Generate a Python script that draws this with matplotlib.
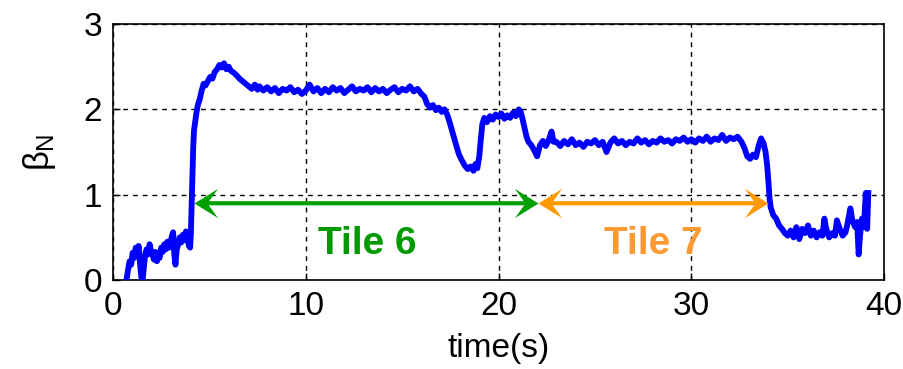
import matplotlib
matplotlib.use('Agg')
import matplotlib.pyplot as plt
from matplotlib.path import Path
from matplotlib.patches import FancyArrowPatch

plt.rcParams['font.family'] = ['Liberation Sans', 'DejaVu Sans']
plt.rcParams['mathtext.fontset'] = 'custom'
plt.rcParams['mathtext.rm'] = 'Liberation Sans'
plt.rcParams['mathtext.it'] = 'Liberation Sans'

# beta_N trace (time in s)
time_s = [
    0.70, 0.78, 0.86, 0.94, 1.02, 1.10, 1.18, 1.26, 1.33, 1.40, 1.47, 1.54, 1.60,
    1.67, 1.74, 1.82, 1.90, 1.97, 2.05, 2.12, 2.20, 2.28, 2.35, 2.42, 2.50, 2.58,
    2.66, 2.74, 2.82, 2.90, 2.98, 3.06, 3.12, 3.18, 3.24, 3.30, 3.38, 3.46, 3.54,
    3.62, 3.70, 3.78, 3.86, 3.94, 4.00, 4.04,
    4.08, 4.12, 4.16, 4.20, 4.26, 4.32, 4.40, 4.50, 4.60, 4.70, 4.80, 4.92, 5.04,
    5.16, 5.28, 5.40, 5.52, 5.64, 5.76, 5.88, 6.00, 6.12, 6.26, 6.40, 6.56, 6.72,
    6.88, 7.04, 7.20, 7.36, 7.50,
    7.6, 7.8, 8.0, 8.2, 8.4, 8.6, 8.8, 9.0, 9.2, 9.4, 9.6, 9.8, 10.0, 10.2, 10.4,
    10.6, 10.8, 11.0, 11.2, 11.4, 11.6, 11.8, 12.0, 12.2, 12.4, 12.6, 12.8, 13.0,
    13.2, 13.4, 13.6, 13.8, 14.0, 14.2, 14.4, 14.6, 14.8, 15.0, 15.2, 15.4, 15.6,
    15.8, 16.0,
    16.15, 16.3, 16.45, 16.6, 16.75, 16.9, 17.05, 17.2, 17.35, 17.5, 17.65, 17.8,
    17.95, 18.1, 18.25, 18.4, 18.55, 18.7, 18.8, 18.9, 19.0, 19.08, 19.16, 19.26,
    19.4, 19.55, 19.7, 19.85, 20.0, 20.15, 20.3, 20.45, 20.6, 20.75, 20.9, 21.05,
    21.15, 21.25, 21.35, 21.45, 21.55, 21.7, 21.85, 22.0, 22.15, 22.3, 22.45, 22.6,
    22.75, 22.85,
    23.0, 23.2, 23.4, 23.6, 23.8, 24.0, 24.2, 24.4, 24.6, 24.8, 25.0, 25.2, 25.4,
    25.6, 25.8, 26.0, 26.2, 26.4, 26.6, 26.8, 27.0, 27.2, 27.4, 27.6, 27.8, 28.0,
    28.2, 28.4, 28.6, 28.8, 29.0, 29.2, 29.4, 29.6, 29.8, 30.0, 30.2, 30.4, 30.6,
    30.8, 31.0, 31.2, 31.4, 31.6, 31.8, 32.0, 32.2, 32.4, 32.6,
    32.75, 32.9, 33.05, 33.2, 33.35, 33.5, 33.62, 33.75, 33.85, 33.93, 34.0, 34.06,
    34.12, 34.25, 34.4, 34.55, 34.7, 34.85, 35.0, 35.15, 35.3, 35.45, 35.6, 35.75,
    35.9, 36.05, 36.2, 36.35, 36.5, 36.65, 36.8, 36.9, 37.0, 37.15, 37.3, 37.45,
    37.55, 37.7, 37.85, 38.0, 38.1, 38.25, 38.35, 38.5, 38.6, 38.68, 38.75, 38.85,
    38.95, 39.05, 39.12, 39.18,
]
beta_n = [
    0.00, 0.12, 0.22, 0.18, 0.32, 0.26, 0.38, 0.30, 0.40, 0.20, 0.03, 0.00, 0.15,
    0.30, 0.36, 0.30, 0.42, 0.34, 0.30, 0.24, 0.33, 0.22, 0.30, 0.26, 0.38, 0.33,
    0.42, 0.36, 0.45, 0.38, 0.44, 0.52, 0.56, 0.30, 0.18, 0.35, 0.42, 0.50, 0.44,
    0.53, 0.47, 0.57, 0.48, 0.40, 0.38, 0.55,
    0.90, 1.25, 1.55, 1.75, 1.85, 1.95, 2.05, 2.12, 2.22, 2.30, 2.28, 2.33, 2.38,
    2.36, 2.44, 2.47, 2.52, 2.49, 2.54, 2.47, 2.50, 2.45, 2.43, 2.40, 2.36, 2.33,
    2.30, 2.27, 2.24, 2.29, 2.23,
    2.27, 2.22, 2.26, 2.21, 2.25, 2.19, 2.24, 2.22, 2.26, 2.20, 2.23, 2.18, 2.22,
    2.29, 2.21, 2.25, 2.19, 2.24, 2.20, 2.26, 2.22, 2.25, 2.19, 2.23, 2.27, 2.21,
    2.24, 2.22, 2.26, 2.20, 2.25, 2.21, 2.24, 2.19, 2.23, 2.26, 2.20, 2.24, 2.22,
    2.27, 2.21, 2.24, 2.18,
    2.15, 2.06, 2.02, 2.05, 1.99, 2.02, 1.97, 2.00, 1.93, 1.82, 1.70, 1.58, 1.47,
    1.40, 1.34, 1.30, 1.33, 1.28, 1.36, 1.31, 1.45, 1.65, 1.83, 1.90, 1.85, 1.92,
    1.88, 1.94, 1.91, 1.95, 1.89, 1.93, 1.90, 1.96, 1.92, 2.00, 1.97, 1.88, 1.78,
    1.68, 1.62, 1.58, 1.52, 1.45, 1.58, 1.63, 1.57, 1.64, 1.74, 1.62,
    1.62, 1.57, 1.63, 1.59, 1.65, 1.58, 1.61, 1.56, 1.62, 1.60, 1.64, 1.58, 1.62,
    1.50, 1.61, 1.66, 1.60, 1.63, 1.58, 1.62, 1.60, 1.66, 1.61, 1.64, 1.59, 1.63,
    1.61, 1.66, 1.62, 1.64, 1.60, 1.65, 1.63, 1.67, 1.62, 1.65, 1.61, 1.66, 1.63,
    1.68, 1.62, 1.66, 1.64, 1.70, 1.63, 1.67, 1.65, 1.68, 1.62,
    1.55, 1.45, 1.42, 1.47, 1.44, 1.58, 1.66, 1.60, 1.50, 1.35, 1.15, 0.95, 0.85,
    0.76, 0.72, 0.64, 0.60, 0.55, 0.52, 0.58, 0.50, 0.62, 0.48, 0.60, 0.55, 0.64,
    0.52, 0.58, 0.50, 0.56, 0.52, 0.72, 0.60, 0.50, 0.55, 0.52, 0.70, 0.60, 0.52,
    0.56, 0.66, 0.84, 0.70, 0.62, 0.68, 0.30, 0.52, 0.72, 0.62, 1.02, 0.60, 1.02,
]

# tile spans (start, end) in s and the level the arrows sit at
tile6_span = (4.2, 22.05)
tile7_span = (22.05, 34.0)
arrow_level = 0.9
tile6_label = (13.2, 0.42)
tile7_label = (28.05, 0.42)

green = '#00a000'
orange = '#ff9900'

# swept arrowheads, tip at the origin
head_right = Path([(0, 0), (-1, 0.62), (-0.55, 0), (-1, -0.62), (0, 0)],
                  [Path.MOVETO, Path.LINETO, Path.LINETO, Path.LINETO, Path.CLOSEPOLY])
head_left = Path([(0, 0), (1, 0.62), (0.55, 0), (1, -0.62), (0, 0)],
                 [Path.MOVETO, Path.LINETO, Path.LINETO, Path.LINETO, Path.CLOSEPOLY])


def span_arrow(ax, span, y, color):
    shaft = FancyArrowPatch((span[0], y), (span[1], y), arrowstyle='-',
                            color=color, lw=3.0, shrinkA=6, shrinkB=6, zorder=4)
    ax.add_patch(shaft)
    ax.plot([span[0]], [y], marker=head_left, markersize=34, color=color,
            markeredgewidth=0, zorder=5)
    ax.plot([span[1]], [y], marker=head_right, markersize=34, color=color,
            markeredgewidth=0, zorder=5)


fig = plt.figure(figsize=(9.04, 3.69), dpi=100)
ax = fig.add_axes([0.125, 0.241, 0.853, 0.694])

ax.plot(time_s, beta_n, color='#0000ff', lw=4.2, zorder=3)

span_arrow(ax, tile6_span, arrow_level, green)
span_arrow(ax, tile7_span, arrow_level, orange)
ax.text(*tile6_label, 'Tile 6', color='#009a00', fontsize=28, fontweight='bold',
        ha='center', va='center', zorder=6)
ax.text(*tile7_label, 'Tile 7', color='#ff9933', fontsize=28, fontweight='bold',
        ha='center', va='center', zorder=6)

ax.set_xlim(0, 40)
ax.set_ylim(0, 3)
ax.set_xticks([0, 10, 20, 30, 40])
ax.set_yticks([0, 1, 2, 3])
ax.grid(True, color='black', linestyle=(0, (3.5, 3.5)), lw=1.0)
ax.tick_params(direction='in', length=5, width=1, labelsize=24, pad=8)
for sp in ax.spines.values():
    sp.set_linewidth(1.2)
    sp.set_color('black')

ax.set_xlabel('time(s)', fontsize=24, labelpad=8)
ax.set_ylabel(r'$\beta_\mathrm{N}$', fontsize=25, labelpad=18)

fig.savefig('out.png', dpi=100)
